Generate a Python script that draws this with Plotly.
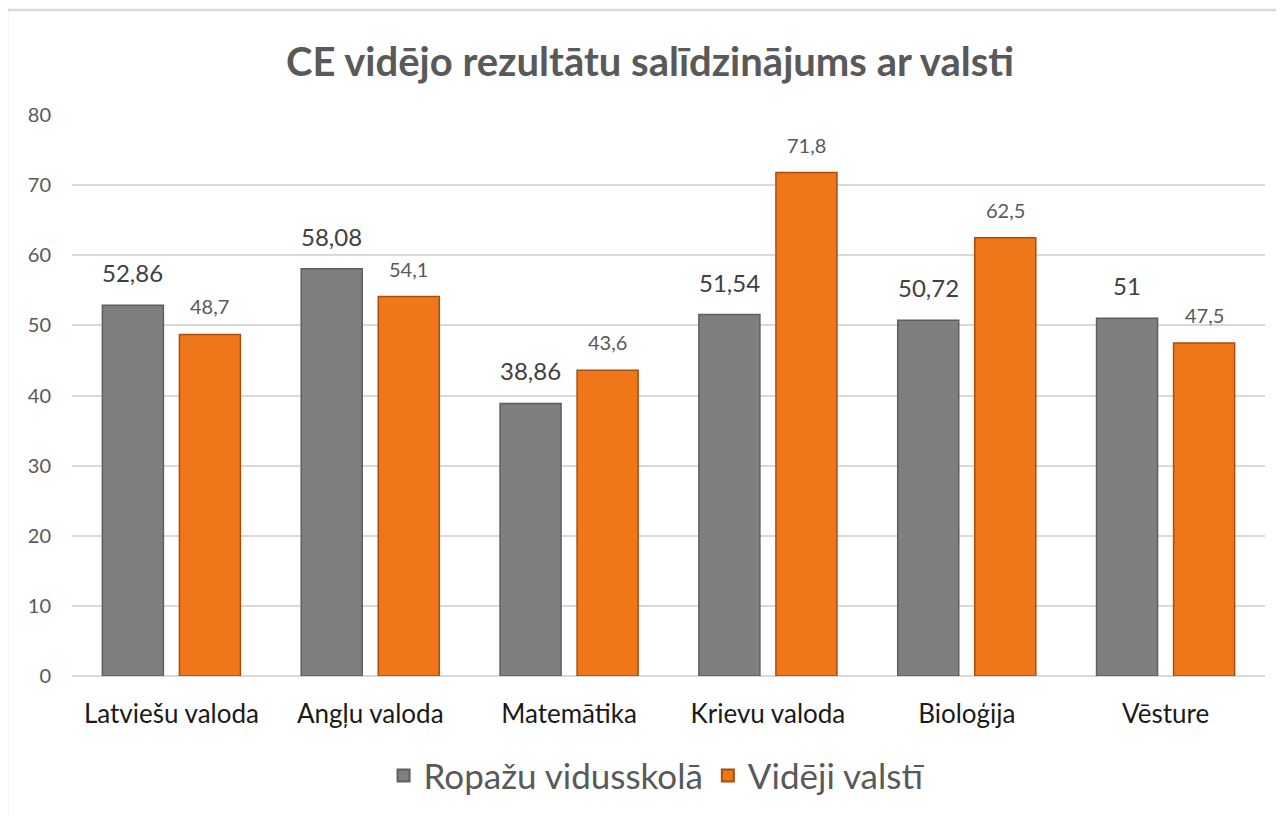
import plotly.graph_objects as go

categories = ["Latviešu valoda", "Angļu valoda", "Matemātika", "Krievu valoda", "Bioloģija", "Vēsture"]
school = [52.86, 58.08, 38.86, 51.54, 50.72, 51]
country = [48.7, 54.1, 43.6, 71.8, 62.5, 47.5]
school_labels = ["52,86", "58,08", "38,86", "51,54", "50,72", "51"]
country_labels = ["48,7", "54,1", "43,6", "71,8", "62,5", "47,5"]
series_names = ["Ropažu vidusskolā", "Vidēji valstī"]
yticks = [0, 10, 20, 30, 40, 50, 60, 70, 80]

FONT = "Lato"

fig = go.Figure()
fig.add_trace(go.Bar(
    x=categories, y=school, name=series_names[0],
    marker=dict(color="#7f7f7f", line=dict(color="#5e5e5e", width=1.5)),
))
fig.add_trace(go.Bar(
    x=categories, y=country, name=series_names[1],
    marker=dict(color="#ef7719", line=dict(color="#a94d0c", width=1.5)),
))

annotations = []
for i, c in enumerate(categories):
    annotations.append(dict(x=c, y=school[i], text=school_labels[i], showarrow=False,
                            xref="x", yref="y", xanchor="center", yanchor="bottom",
                            xshift=-38.5, yshift=16,
                            font=dict(family=FONT, size=24, color="#404040")))
    annotations.append(dict(x=c, y=country[i], text=country_labels[i], showarrow=False,
                            xref="x", yref="y", xanchor="center", yanchor="bottom",
                            xshift=38.5, yshift=14,
                            font=dict(family=FONT, size=20, color="#595959")))

W, H = 1284, 816
fig.update_layout(
    width=W, height=H,
    margin=dict(l=64, r=27, t=107, b=148),
    paper_bgcolor="white", plot_bgcolor="white",
    barmode="group", bargap=0.225, bargroupgap=0.208,
    title=dict(text="<b>CE vidējo rezultātu salīdzinājums ar valsti</b>",
               x=0.5, xanchor="center", y=1 - 54/H, yanchor="middle",
               font=dict(family=FONT, size=40, color="#595959")),
    xaxis=dict(showgrid=False, showline=False, ticks="", ticklabelstandoff=20,
               tickfont=dict(family=FONT, size=26, color="#1a1a1a"),
               showticklabels=True),
    yaxis=dict(range=[0, 80], tickvals=yticks, showgrid=True, gridcolor="#d9d9d9",
               gridwidth=1.5, zeroline=True, zerolinecolor="#d9d9d9", zerolinewidth=1.5,
               showline=False, ticks="", ticklabelstandoff=20,
               tickfont=dict(family=FONT, size=20, color="#595959")),
    legend=dict(orientation="h", x=0.49, xanchor="center", y=-0.125, yanchor="top",
                font=dict(family=FONT, size=35, color="#595959"),
                itemsizing="constant", traceorder="normal", itemwidth=30),
    annotations=annotations,
    shapes=[dict(type="rect", xref="paper", yref="paper",
                 x0=(-1 - 64) / 1193, x1=(1300 - 64) / 1193,
                 y0=(668 - 830) / 561, y1=(668 - 2) / 561,
                 line=dict(color="#d9d9d9", width=2.5), fillcolor="rgba(0,0,0,0)",
                 layer="below")],
)

fig.write_html("out.html")
